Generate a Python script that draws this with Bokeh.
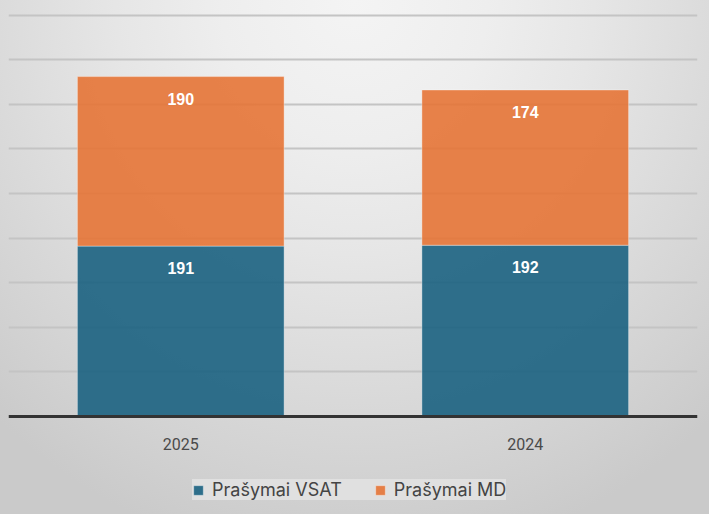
from bokeh.plotting import figure
from bokeh.models import ColumnDataSource, Legend, LegendItem, FixedTicker, Range1d, Span
from bokeh.core.properties import value
from bokeh.embed import file_html
from bokeh.resources import INLINE

years = ["2025", "2024"]
vsat = [191, 192]
md = [190, 174]
series_names = ["Prašymai VSAT", "Prašymai MD"]
colors = ["#1b6281", "#e67436"]
grid_values = [50, 100, 150, 200, 250, 300, 350, 400, 450]

src = ColumnDataSource(dict(
    years=years, vsat=vsat, md=md,
    vsat_lbl=[str(v) for v in vsat], md_lbl=[str(v) for v in md],
    vsat_top=vsat, md_top=[a + b for a, b in zip(vsat, md)],
    base=[0] * len(years),
))

p = figure(x_range=years, y_range=Range1d(-109.8, 466.3), width=709, height=514,
           output_backend="svg", toolbar_location=None,
           x_axis_location=None, y_axis_location=None,
           min_border_left=8, min_border_right=12, min_border_top=0, min_border_bottom=0,
           styles={"background": "radial-gradient(ellipse 75% 110% at 50% 0%, #f4f4f4 0%, #eeeeee 25%, #e6e6e6 45%, #dcdcdc 65%, #d2d2d2 85%, #cacaca 100%)"})
p.background_fill_alpha = 0
p.border_fill_alpha = 0
p.outline_line_color = None
p.x_range.range_padding = 0

p.ygrid.ticker = FixedTicker(ticks=grid_values)
p.ygrid.grid_line_color = "#c4c4c4"
p.ygrid.grid_line_width = 2
p.xgrid.grid_line_color = None

rs = p.vbar_stack(["vsat", "md"], x="years", width=0.6, source=src, color=colors,
                  fill_alpha=0.9, line_color="white", line_alpha=0.35, line_width=1)

p.add_layout(Span(location=0, dimension="width", line_color="#333333", line_width=3))

p.text(x="years", y="vsat_top", text="vsat_lbl", source=src, y_offset=22,
       text_align="center", text_baseline="middle", text_color="white",
       text_font=value("Liberation Sans"), text_font_style="bold", text_font_size="16px")
p.text(x="years", y="md_top", text="md_lbl", source=src, y_offset=22,
       text_align="center", text_baseline="middle", text_color="white",
       text_font=value("Liberation Sans"), text_font_style="bold", text_font_size="16px")

# category (axis) labels under the baseline
p.text(x="years", y="base", text="years", source=src, y_offset=27,
       text_align="center", text_baseline="middle", text_color="#4a4a4a",
       text_font=value("Roboto"), text_font_size="16px")

legend = Legend(items=[LegendItem(label=series_names[i], renderers=[rs[i]]) for i in range(2)],
                orientation="horizontal", location=(184, 14),
                background_fill_color="#e0e0e0", background_fill_alpha=1,
                border_line_color=None, padding=10, spacing=32,
                glyph_width=12, glyph_height=12, label_standoff=8,
                label_text_font="Inter", label_text_font_size="18px",
                label_text_color="#444444")
p.add_layout(legend)

open("out.html", "w").write(file_html(p, INLINE))
